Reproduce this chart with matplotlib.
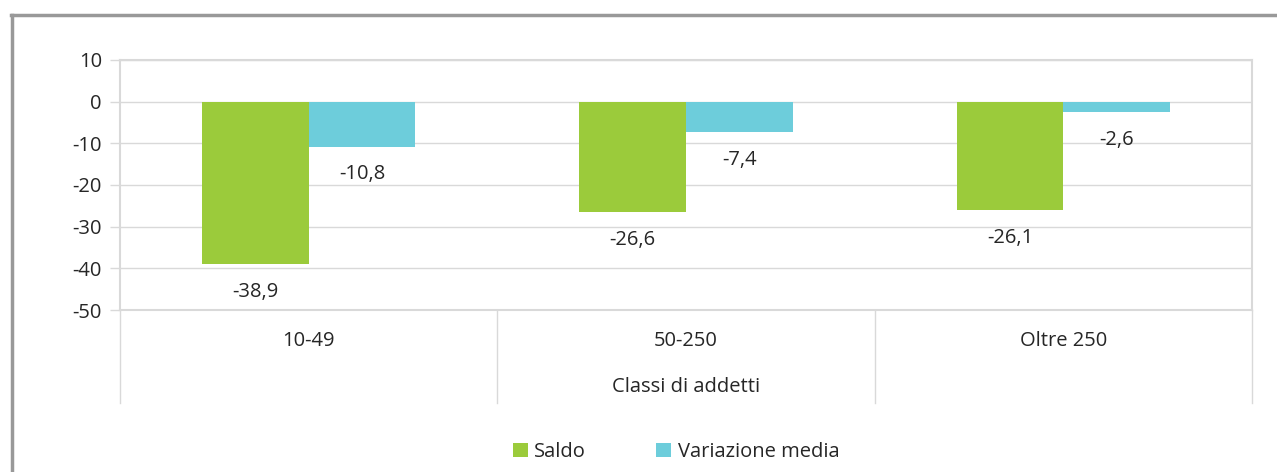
import matplotlib
matplotlib.use("Agg")
import matplotlib.pyplot as plt
from matplotlib.lines import Line2D
from matplotlib.transforms import blended_transform_factory
import numpy as np

categories = ["10-49", "50-250", "Oltre 250"]
saldo = [-38.9, -26.6, -26.1]
variazione = [-10.8, -7.4, -2.6]
series_names = ["Saldo", "Variazione media"]
yticks = [10, 0, -10, -20, -30, -40, -50]
xlabel = "Classi di addetti"

green = "#9BCB3B"
cyan = "#6DCDDB"
grid_c = "#D9D9D9"
text_c = "#262626"
FS = 14.5

plt.rcParams['font.family'] = ['Open Sans', 'DejaVu Sans']

fig = plt.figure(figsize=(12.77, 4.72), dpi=100)
W, H = 1277, 472
ax = fig.add_axes([120 / W, 1 - 310 / H, (1252 - 120) / W, 250 / H])

x = np.arange(len(categories))
bw = 0.283
b1 = ax.bar(x - bw / 2, saldo, bw, color=green, label=series_names[0], zorder=3)
b2 = ax.bar(x + bw / 2, variazione, bw, color=cyan, label=series_names[1], zorder=3)

for bars, vals in ((b1, saldo), (b2, variazione)):
    for rect, v in zip(bars, vals):
        ax.annotate(f"{v:.1f}".replace(".", ","),
                    (rect.get_x() + rect.get_width() / 2, v),
                    xytext=(0, -20), textcoords="offset points",
                    ha="center", va="center", fontsize=FS, color=text_c)

ax.set_xlim(-0.5, len(categories) - 0.5)
ax.set_ylim(-50, 10)
ax.set_yticks(yticks)
ax.set_yticklabels([str(t) for t in yticks], fontsize=FS, color=text_c)
ax.tick_params(axis='y', length=7, color=grid_c, width=1, pad=6)
ax.set_xticks(x)
ax.set_xticklabels(categories, fontsize=FS, color=text_c)
ax.tick_params(axis='x', length=0, pad=15)
ax.yaxis.grid(True, color=grid_c, linewidth=1, zorder=0)
for s in ax.spines.values():
    s.set_color(grid_c)
    s.set_linewidth(1.5)

trans = blended_transform_factory(ax.transData, ax.transAxes)
for xv in np.arange(-0.5, len(categories), 1.0):
    ax.add_line(Line2D([xv, xv], [0, -(403 - 310) / 250], transform=trans,
                       color=grid_c, linewidth=1, clip_on=False))

fig.text((120 + 1252) / 2 / W, 1 - 387 / H, xlabel, ha="center", va="center",
         fontsize=FS, color=text_c)

ax.legend(loc="center", bbox_to_anchor=(676 / W, 1 - 452 / H), bbox_transform=fig.transFigure,
          ncol=2, frameon=False, fontsize=FS, handlelength=0.75, handleheight=0.75,
          handletextpad=0.3, columnspacing=3.5, labelcolor=text_c)

fig.add_artist(Line2D([11 / W, 1.0], [1 - 15 / H, 1 - 15 / H], transform=fig.transFigure,
                      color="#999999", linewidth=2.5))
fig.add_artist(Line2D([12 / W, 12 / W], [0, 1 - 15 / H], transform=fig.transFigure,
                      color="#999999", linewidth=2.5))

fig.savefig("out.png", dpi=100)
